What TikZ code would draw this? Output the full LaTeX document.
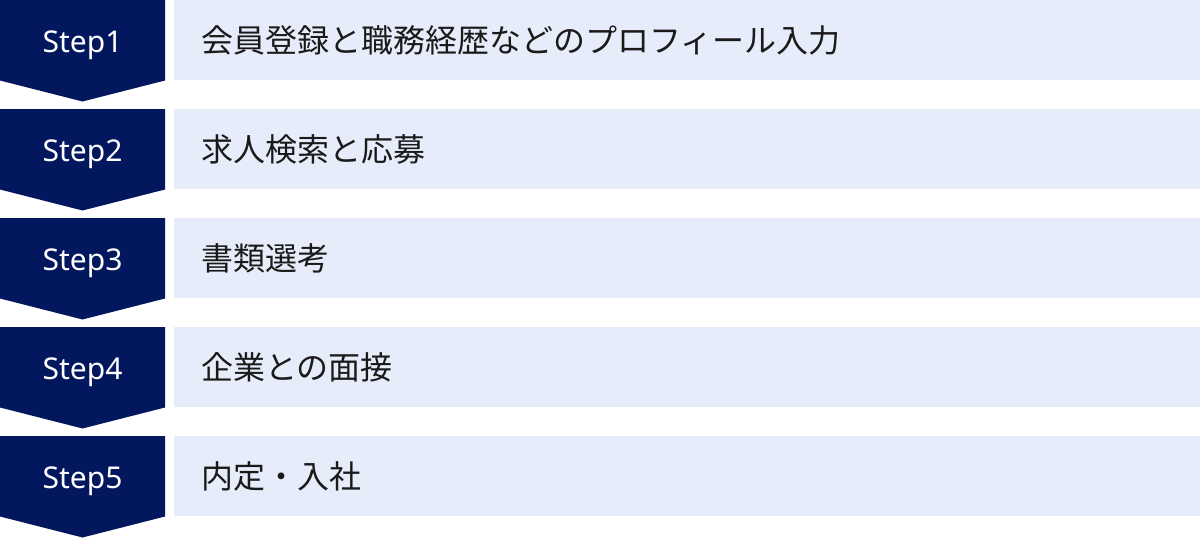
\documentclass[tikz,border=0pt]{standalone}
\usepackage{fontspec}
\setmainfont{Noto Sans CJK JP}
\newfontfamily\stepfont{Noto Sans}
\definecolor{navy}{HTML}{03175F}
\definecolor{pale}{HTML}{E6ECF9}
\definecolor{ink}{HTML}{1A1A1A}
\tikzset{
  stepshape/.style={fill=navy, draw=none},
  rowbox/.style={fill=pale, draw=none},
  steplabel/.style={text=white, font=\stepfont\fontsize{30}{30}\selectfont, inner sep=0pt, anchor=base},
  rowlabel/.style={text=ink, font=\fontsize{32}{32}\selectfont, inner sep=0pt, anchor=west}
}
\begin{document}
\begin{tikzpicture}[x=1pt,y=-1pt]
\useasboundingbox (0,0) rectangle (1200,538);
\foreach \i/\lab/\txt in {1/Step1/会員登録と職務経歴などのプロフィール入力,
                          2/Step2/求人検索と応募,
                          3/Step3/書類選考,
                          4/Step4/企業との面接,
                          5/Step5/内定・入社}{
  \pgfmathsetmacro{\t}{(\i-1)*109}
  \fill[stepshape] (0,\t) -- (165,\t) -- (165,\t+80.5) -- (82.5,\t+101.5) -- (0,\t+80.5) -- cycle;
  \fill[rowbox] (174,\t) rectangle (1200,\t+80);
  \node[steplabel] (s\i) at (82.5,\t+52) {\lab};
  \node[rowlabel] (r\i) at (201,\t+40) {\txt};
}
\end{tikzpicture}
\end{document}
